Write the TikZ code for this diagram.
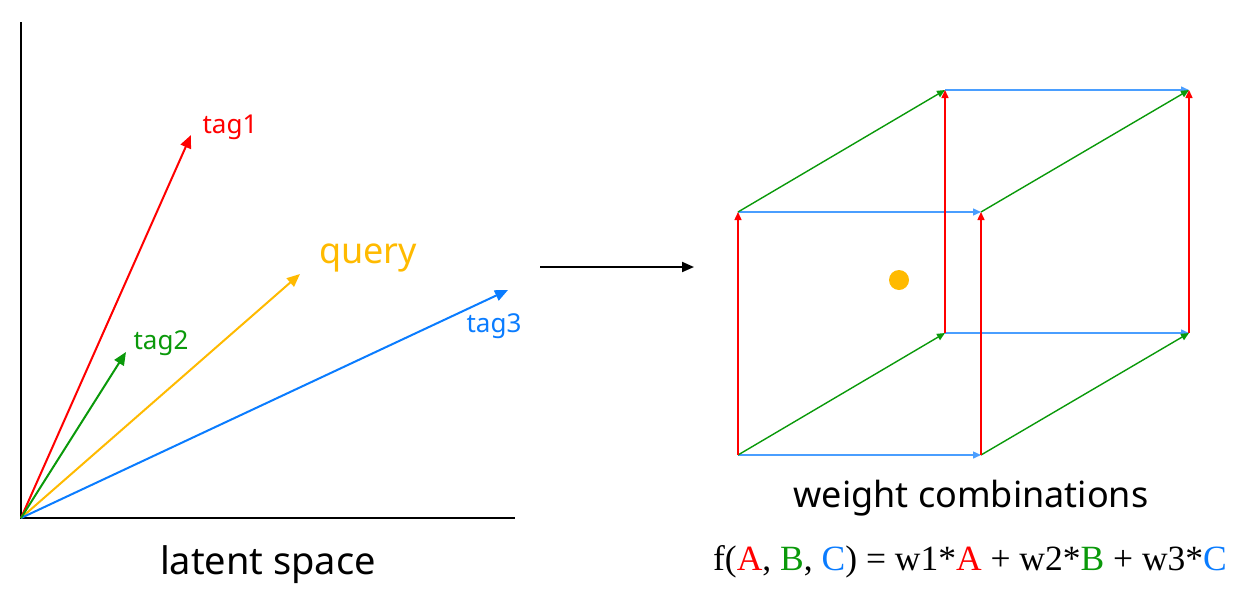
\documentclass[tikz,border=0pt]{standalone}
\usepackage{fontspec}
\setmainfont{Noto Sans}
\newfontfamily\formfont{Liberation Serif}
\usetikzlibrary{arrows.meta}
\definecolor{cred}{HTML}{FF0000}
\definecolor{cgreen}{HTML}{0A990A}
\definecolor{cblue}{HTML}{0A7CFF}
\definecolor{lblue}{HTML}{4A9EFF}
\definecolor{corange}{HTML}{FFBA00}
\tikzset{
  vec/.style={line width=2pt,-{Triangle[length=13pt,width=11pt]}},
  edge/.style={line width=1.4pt,-{Triangle[length=8pt,width=7pt]}},
  lbl/.style={inner sep=0pt,anchor=base},
}
\begin{document}
\begin{tikzpicture}[x=1pt,y=-1pt]
\useasboundingbox (0,0) rectangle (1242,603);
% left panel
\coordinate (O) at (21,518);
\coordinate (ytop) at (21,22);
\coordinate (xend) at (515,518);
\coordinate (t1) at (191,135);
\coordinate (t2) at (126,352);
\coordinate (q) at (300,274);
\coordinate (t3) at (508,290);
\draw[line width=2.4pt] (ytop) -- (O) -- (xend);
\draw[vec,cred] (O) -- (t1);
\draw[vec,corange] (O) -- (q);
\draw[vec,cblue] (O) -- (t3);
\draw[vec,cgreen] (O) -- (t2);
\node[lbl,text=cred,font=\fontsize{26}{30}\selectfont] (l1) at (230,133) {tag1};
\node[lbl,text=cgreen,font=\fontsize{26}{30}\selectfont] (l2) at (161,349) {tag2};
\node[lbl,text=cblue,font=\fontsize{26}{30}\selectfont] (l3) at (494,332) {tag3};
\node[lbl,text=corange,font=\fontsize{36}{42}\selectfont] (lq) at (368,263) {query};
\node[lbl,font=\fontsize{38}{44}\selectfont] (ls) at (268,574) {latent space};
% middle arrow
\coordinate (ma) at (540,267);
\coordinate (mb) at (694,267);
\draw[line width=2pt,-{Triangle[length=12pt,width=10pt]}] (ma) -- (mb);
% cube
\coordinate (A) at (738,455);
\coordinate (B) at (981,455);
\coordinate (C) at (738,212);
\coordinate (D) at (981,212);
\coordinate (E) at (945,333);
\coordinate (F) at (1189,333);
\coordinate (G) at (945,90);
\coordinate (H) at (1189,90);
\draw[edge,lblue] (A) -- (B);
\draw[edge,lblue] (C) -- (D);
\draw[edge,lblue] (E) -- (F);
\draw[edge,lblue] (G) -- (H);
\draw[edge,cgreen] (A) -- (E);
\draw[edge,cgreen] (B) -- (F);
\draw[edge,cgreen] (C) -- (G);
\draw[edge,cgreen] (D) -- (H);
\draw[edge,cred] (A) -- (C);
\draw[edge,cred] (B) -- (D);
\draw[edge,cred] (E) -- (G);
\draw[edge,cred] (F) -- (H);
\fill[corange] (899,280) circle (10);
\node[lbl,font=\fontsize{36}{42}\selectfont] (wc) at (971,507) {weight combinations};
\node[lbl,font=\formfont\fontsize{35.5}{42}\selectfont] (fx) at (970,570)
  {f(\textcolor{cred}{A}, \textcolor{cgreen}{B}, \textcolor{cblue}{C}) = w1*\textcolor{cred}{A} + w2*\textcolor{cgreen}{B} + w3*\textcolor{cblue}{C}};
\end{tikzpicture}
\end{document}
